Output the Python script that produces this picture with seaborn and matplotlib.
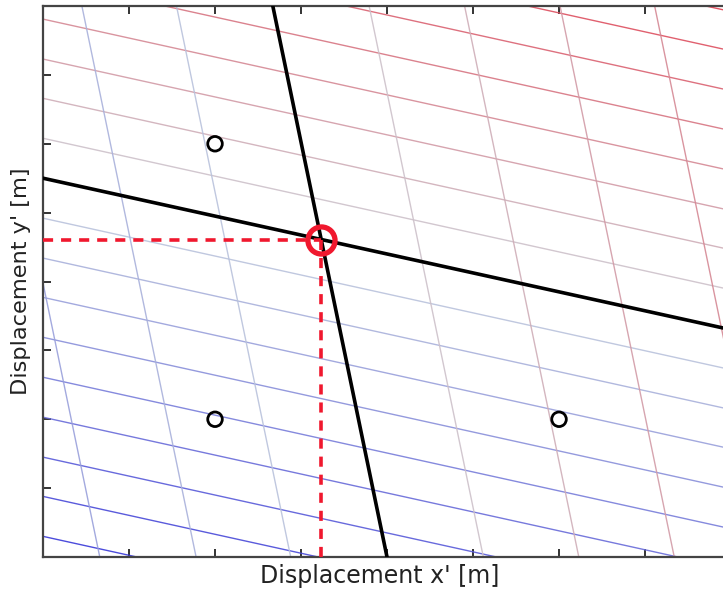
import numpy as np
import pandas as pd
import matplotlib
matplotlib.use('Agg')
import matplotlib.pyplot as plt
import seaborn as sns
from matplotlib.colors import LinearSegmentedColormap

# grid lines parallel to the shallow axis: y at x=0, index relative to the black line
grid_a_index = [-9, -8, -7, -6, -5, -4, -3, -2, -1, 0, 1, 2, 3, 4, 5, 6, 7, 8]
grid_a_intercept = [0.30, 0.88, 1.45, 2.03, 2.61, 3.19, 3.77, 4.34, 4.92, 5.50,
                    6.08, 6.66, 7.23, 7.81, 8.39, 8.97, 9.55, 10.12]
slope_a = -0.275   # dy/dx

# grid lines parallel to the steep axis: x at y=0
grid_b_index = [-3, -2, -1, 0, 1, 2, 3, 4]
grid_b_intercept = [0.66, 1.78, 2.88, 4.00, 5.12, 6.23, 7.34, 8.44]
slope_b = -0.166   # dx/dy

points_x = [2, 2, 6]
points_y = [6, 2, 2]

target_x = 3.235
target_y = 4.61

sns.set_style('ticks')
plt.rcParams['font.family'] = ['DejaVu Sans']

cmap = LinearSegmentedColormap.from_list('bwr_soft', ['#3838d8', '#cad4dc', '#e22a3c'])

rows = []
for k, b in zip(grid_a_index, grid_a_intercept):
    if k == 0:
        continue
    for x in (-1.0, 9.0):
        rows.append({'line': 'a%d' % k, 'k': k, 'x': x, 'y': b + slope_a * x})
for k, b in zip(grid_b_index, grid_b_intercept):
    if k == 0:
        continue
    for y in (-1.0, 9.0):
        rows.append({'line': 'b%d' % k, 'k': k, 'x': b + slope_b * y, 'y': y})
grid = pd.DataFrame(rows)
palette = {name: cmap(0.5 + k / 18.0) for name, k in grid.groupby('line')['k'].first().items()}

fig = plt.figure(figsize=(7.23, 5.91), dpi=100)
ax = fig.add_axes([0.0595, 0.0575, 0.9516, 0.9323])

sns.lineplot(data=grid, x='x', y='y', hue='line', palette=palette, units='line',
             estimator=None, sort=False, legend=False, linewidth=1.0, alpha=0.9, ax=ax)

# black reference lines through the target
xs = np.array([-1.0, 9.0])
ax.plot(xs, grid_a_intercept[grid_a_index.index(0)] + slope_a * xs, color='black', lw=2.6, zorder=4)
ys = np.array([-1.0, 9.0])
ax.plot(grid_b_intercept[grid_b_index.index(0)] + slope_b * ys, ys, color='black', lw=2.6, zorder=4)

# dashed projections onto the axes
red = '#f0182e'
ax.plot([0, target_x], [target_y, target_y], color=red, lw=2.6, dashes=(2.8, 2.2), zorder=5)
ax.plot([target_x, target_x], [0, target_y], color=red, lw=2.6, dashes=(2.8, 2.2), zorder=5)

sns.scatterplot(x=points_x, y=points_y, ax=ax, s=110, facecolor='none',
                edgecolor='black', linewidth=2.0, zorder=6)
ax.plot([target_x], [target_y], 'o', ms=19.5, mfc='none', mec=red, mew=3.8, zorder=7)

ax.set_xlim(0, 8)
ax.set_ylim(0, 8)
ax.set_xticks(np.arange(0, 9))
ax.set_yticks(np.arange(0, 9))
ax.set_xticklabels([])
ax.set_yticklabels([])
ax.tick_params(direction='in', length=5.5, width=1.4, color='#333333',
               top=True, right=True, bottom=True, left=True)
for sp in ax.spines.values():
    sp.set_linewidth(1.6)
    sp.set_color('#444444')

ax.set_xlabel("Displacement x' [m]", fontsize=17, color='#222222')
ax.set_ylabel("Displacement y' [m]", fontsize=16.2, color='#222222')
ax.xaxis.set_label_coords(0.49, -0.012, transform=ax.transAxes)
ax.xaxis.label.set_va('top')
ax.yaxis.set_label_coords(-0.0315, 0.5, transform=ax.transAxes)
ax.yaxis.label.set_va('center')

fig.savefig('out.png', dpi=100)
